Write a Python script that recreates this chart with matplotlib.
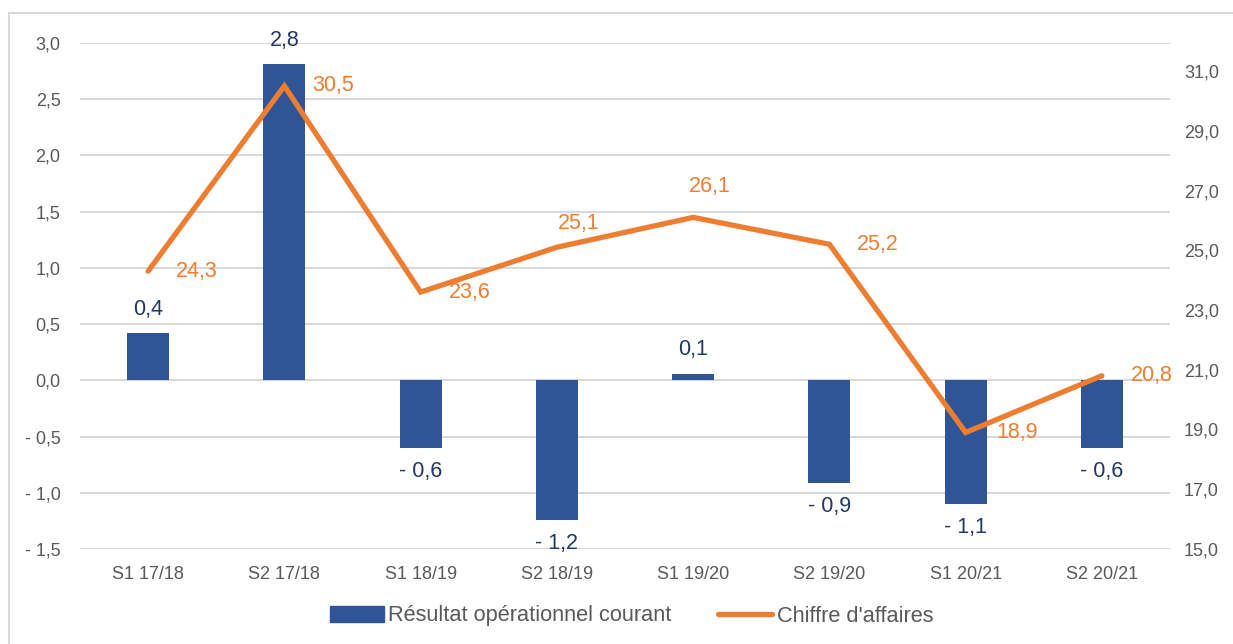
import matplotlib.pyplot as plt
from matplotlib.patches import Rectangle
from matplotlib.lines import Line2D
from matplotlib import ticker

plt.rcParams["font.family"] = ["Liberation Sans", "DejaVu Sans"]

categories = ["S1 17/18", "S2 17/18", "S1 18/19", "S2 18/19",
              "S1 19/20", "S2 19/20", "S1 20/21", "S2 20/21"]
resultat = [0.42, 2.81, -0.60, -1.24, 0.06, -0.91, -1.10, -0.60]
chiffre = [24.3, 30.5, 23.6, 25.1, 26.1, 25.2, 18.9, 20.8]
# label offsets (points) for the revenue line labels
line_label_offsets = [(20, 0), (20, 0), (20, 0), (16, 17), (12, 22), (20, 0), (22, 0), (21, 0)]

BLUE = "#2F5597"
ORANGE = "#ED7D31"
NAVY = "#203864"
GREY_TXT = "#595959"
GRID = "#D9D9D9"


def fr(v):
    s = f"{abs(v):.1f}".replace(".", ",")
    return f"- {s}" if round(v, 1) < 0 else s


fig = plt.figure(figsize=(12.33, 6.44), dpi=100)
fig.patches.append(Rectangle((9 / 1233, -0.1), 1.2, 1 - 13 / 644 + 0.1,
                             transform=fig.transFigure, fill=False,
                             edgecolor="#D9D9D9", linewidth=1.5))

ax = fig.add_axes([80 / 1233, 1 - 549 / 644, 1090 / 1233, 506 / 644])
x = list(range(len(categories)))

ax.bar(x, resultat, width=0.31, color=BLUE, zorder=2)
ax.set_xlim(-0.5, len(categories) - 0.5)
ax.set_ylim(-1.5, 3.0)
ax.yaxis.set_major_locator(ticker.MultipleLocator(0.5))
ax.yaxis.set_major_formatter(ticker.FuncFormatter(lambda v, p: fr(v)))
ax.grid(axis="y", color=GRID, linewidth=1.5, zorder=0)
ax.set_xticks(x)
ax.set_xticklabels(categories)
ax.tick_params(axis="both", length=0, colors=GREY_TXT, labelsize=13)
ax.tick_params(axis="x", pad=12)
ax.tick_params(axis="y", pad=14)
for s in ax.spines.values():
    s.set_visible(False)

for xi, v in zip(x, resultat):
    ax.annotate(fr(v), (xi, v), xytext=(0, 17 if v >= 0 else -17),
                textcoords="offset points", ha="center",
                va="center", color=NAVY, fontsize=15.5)

ax2 = ax.twinx()
ax2.plot(x, chiffre, color=ORANGE, linewidth=3.8, solid_capstyle="round",
         solid_joinstyle="miter", zorder=3)
ax2.set_ylim(15, 15 + 506 / 29.875)
ax2.set_yticks([15, 17, 19, 21, 23, 25, 27, 29, 31])
ax2.yaxis.set_major_formatter(ticker.FuncFormatter(lambda v, p: fr(v)))
ax2.tick_params(axis="y", length=0, colors=GREY_TXT, labelsize=13, pad=10)
for s in ax2.spines.values():
    s.set_visible(False)

for xi, v, (dx, dy) in zip(x, chiffre, line_label_offsets):
    ax2.annotate(fr(v), (xi, v), xytext=(dx, dy), textcoords="offset points",
                 ha="left" if dy == 0 else "center", va="center",
                 color=ORANGE, fontsize=15.5)

handles = [Rectangle((0, 0), 1, 1, color=BLUE),
           Line2D([0], [0], color=ORANGE, linewidth=3.8, solid_capstyle="round")]
fig.legend(handles, ["Résultat opérationnel courant", "Chiffre d'affaires"],
           loc="center", bbox_to_anchor=(0.512, 1 - 616 / 644), ncol=2,
           frameon=False, fontsize=15.7, handlelength=2.5, handletextpad=0.2,
           columnspacing=2.1, labelcolor=GREY_TXT)

fig.savefig("out.png", dpi=100)
